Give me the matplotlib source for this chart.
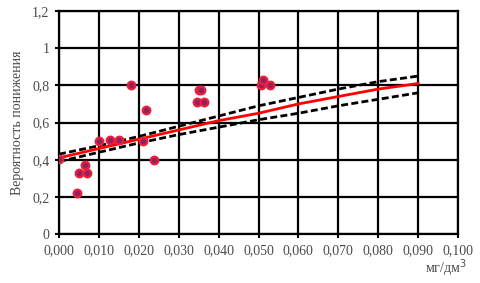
import numpy as np
import matplotlib.pyplot as plt

# точки наблюдений
x_pts = [0.000, 0.0046, 0.005, 0.0065, 0.0071, 0.010, 0.0129, 0.015, 0.018, 0.021,
         0.0218, 0.0238, 0.0346, 0.0351, 0.0357, 0.0364, 0.0506, 0.0511, 0.0528]
y_pts = [0.405, 0.22, 0.331, 0.369, 0.331, 0.503, 0.507, 0.507, 0.803, 0.498,
         0.668, 0.396, 0.713, 0.776, 0.776, 0.713, 0.803, 0.83, 0.80]

# линия регрессии и доверительные границы
x_line = [0.00, 0.01, 0.02, 0.03, 0.04, 0.05, 0.06, 0.07, 0.08, 0.09]
y_fit = [0.41, 0.46, 0.51, 0.56, 0.61, 0.65, 0.70, 0.74, 0.78, 0.81]
y_up = [0.43, 0.475, 0.525, 0.58, 0.635, 0.69, 0.735, 0.78, 0.82, 0.85]
y_lo = [0.39, 0.44, 0.49, 0.535, 0.575, 0.615, 0.65, 0.69, 0.725, 0.76]

x_ticks = [0.00, 0.01, 0.02, 0.03, 0.04, 0.05, 0.06, 0.07, 0.08, 0.09, 0.10]
x_labels = ['0,000', '0,010', '0,020', '0,030', '0,040', '0,050',
            '0,060', '0,070', '0,080', '0,090', '0,100']
y_ticks = [0, 0.2, 0.4, 0.6, 0.8, 1.0, 1.2]
y_labels = ['0', '0,2', '0,4', '0,6', '0,8', '1', '1,2']

plt.rcParams['font.family'] = ['Liberation Serif', 'DejaVu Serif']
txt = '#4a4a4a'

fig = plt.figure(figsize=(4.81, 2.83), dpi=100)
ax = fig.add_axes([0.1227, 0.173, 0.8295, 0.788])

ax.plot(x_line, y_up, color='black', lw=2, ls=(0, (2.5, 1.2)), zorder=3)
ax.plot(x_line, y_lo, color='black', lw=2, ls=(0, (2.5, 1.2)), zorder=3)
ax.plot(x_line, y_fit, color='#ff0000', lw=2, zorder=4)
ax.plot(x_pts, y_pts, 'o', ms=5.5, mfc='#902060', mec='#e8203c', mew=1.6, zorder=5)

ax.set_xlim(0, 0.1)
ax.set_ylim(0, 1.2)
ax.set_xticks(x_ticks)
ax.set_xticklabels(x_labels, fontsize=10, color=txt)
ax.set_yticks(y_ticks)
ax.set_yticklabels(y_labels, fontsize=10, color=txt)
ax.tick_params(length=3, width=1.5, color='black', pad=4)

ax.grid(True, color='black', lw=1.6)
ax.set_axisbelow(True)
for s in ax.spines.values():
    s.set_color('black')
    s.set_linewidth(1.6)

ax.set_ylabel('Вероятность понижения', fontsize=10, color=txt, labelpad=6)
fig.text(0.97, 0.035, 'мг/дм$^3$', fontsize=10, color=txt, ha='right')

fig.savefig('out.png', dpi=100)
